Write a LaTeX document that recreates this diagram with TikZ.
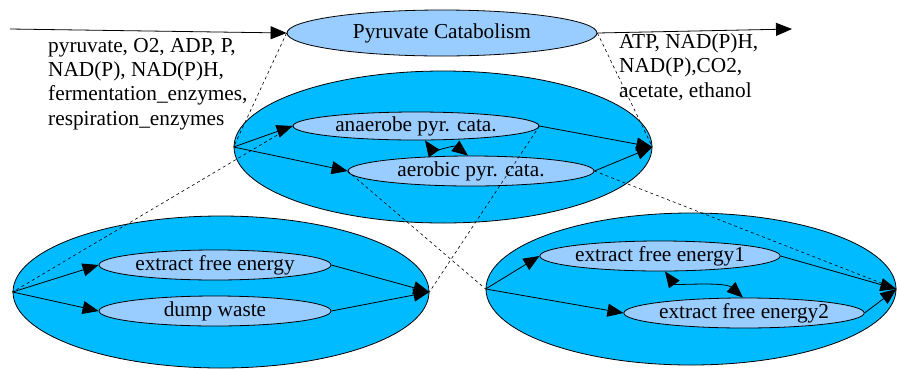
\documentclass[tikz,border=0pt]{standalone}
\usepackage{fontspec}
\setmainfont{Liberation Serif}
\usetikzlibrary{shapes.geometric,arrows.meta}
\definecolor{outerblue}{HTML}{00BBFF}
\definecolor{innerblue}{HTML}{99CCFF}
\begin{document}
\begin{tikzpicture}[x=1pt,y=-1pt,
  outerell/.style={ellipse, draw=black, line width=0.8pt, fill=outerblue, inner sep=0pt},
  innerell/.style={ellipse, draw=black, line width=0.8pt, fill=innerblue, inner sep=0pt,
    minimum width=232pt, minimum height=30pt, font=\fontsize{21.3}{24.2}\selectfont},
  arr/.style={line width=0.8pt, -{Triangle[length=16pt,width=13pt]}},
  darr/.style={line width=0.8pt, {Triangle[length=16pt,width=13pt]}-{Triangle[length=16pt,width=13pt]}},
  expand/.style={line width=0.6pt, dash pattern=on 3pt off 3pt},
  lbl/.style={align=left, inner sep=0pt, font=\fontsize{21.3}{24.2}\selectfont}
]
\useasboundingbox (0,0) rectangle (897,368);

% top level
\node[innerell, minimum width=310pt, minimum height=46pt] (pc) at (442,33) {Pyruvate Catabolism};
\coordinate (inS) at (10,29);
\coordinate (outE) at (792,29);

% middle expansion
\node[outerell, minimum width=418pt, minimum height=152pt] (mid) at (443,147) {};
\node[innerell, minimum width=246pt, minimum height=28pt] (anaer) at (416,126) {anaerobe pyr. cata.};
\node[innerell, minimum width=246pt, minimum height=30pt] (aer) at (471,171) {aerobic pyr. cata.};

% bottom left expansion
\node[outerell, minimum width=416pt, minimum height=152pt] (bl) at (221,292) {};
\node[innerell] (efe) at (215,265) {extract free energy};
\node[innerell] (dump) at (215,311) {dump waste};

% bottom right expansion
\node[outerell, minimum width=410pt, minimum height=152pt] (br) at (691,289) {};
\node[innerell] (efe1) at (660,256) {extract free energy1};
\node[innerell] (efe2) at (744,313) {extract free energy2};

% top arrows
\draw[arr] (inS) -- (pc.west);
\draw[arr] (pc.east) -- (outE);

% middle arrows
\draw[arr] (mid.west) -- (anaer.west);
\draw[arr] (mid.west) -- (aer.west);
\draw[arr] (anaer.east) -- (mid.east);
\draw[arr] (aer.east) -- (mid.east);
\draw[darr] ([xshift=9pt]anaer.south) .. controls +(7,10) and +(-13,-10) .. ([xshift=-3pt]aer.north);

% bottom left arrows
\draw[arr] (bl.west) -- (efe.west);
\draw[arr] (bl.west) -- (dump.west);
\draw[arr] (efe.east) -- (bl.east);
\draw[arr] (dump.east) -- (bl.east);

% bottom right arrows
\draw[arr] (br.west) -- (efe1.west);
\draw[arr] (br.west) -- (efe2.west);
\draw[arr] (efe1.east) -- (br.east);
\draw[arr] (efe2.east) -- (br.east);
\draw[darr] ([xshift=5pt]efe1.south) .. controls +(10,14) and +(-18,-16) .. ([xshift=-1pt]efe2.north);

% expansion lines
\draw[expand] (pc.west) -- (mid.west);
\draw[expand] (pc.east) -- (mid.east);
\draw[expand] (anaer.west) -- (bl.west);
\draw[expand] (anaer.east) -- (bl.east);
\draw[expand] (aer.west) -- (br.west);
\draw[expand] (aer.east) -- (br.east);

% labels
\node[lbl, anchor=base west] (inlbl) at (48,125) {pyruvate, O2, ADP, P,\\NAD(P), NAD(P)H,\\fermentation\_enzymes,\\respiration\_enzymes};
\node[lbl, anchor=base west] (outlbl) at (619,97) {ATP, NAD(P)H,\\NAD(P),CO2,\\acetate, ethanol};
\end{tikzpicture}
\end{document}
